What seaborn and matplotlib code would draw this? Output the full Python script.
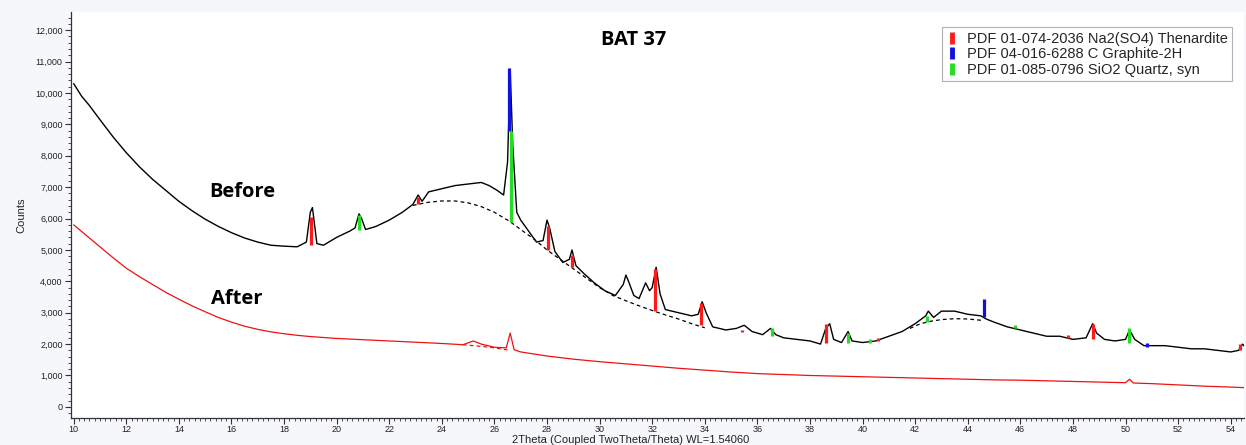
import matplotlib
matplotlib.use("Agg")
import matplotlib.pyplot as plt
from matplotlib.lines import Line2D
from matplotlib.ticker import MultipleLocator, StrMethodFormatter
import pandas as pd
import seaborn as sns

# --- diffraction scan before treatment (2theta in degrees, counts) ---
before_2theta = [10.0, 10.3, 10.6, 11.0, 11.5, 12.0, 12.5, 13.0, 13.5, 14.0, 14.5, 15.0,
                 15.5, 16.0, 16.5, 17.0, 17.5, 18.0, 18.5, 18.85, 19.0, 19.08, 19.25, 19.5,
                 20.0, 20.5, 20.7, 20.85, 20.95, 21.1, 21.5, 22.0, 22.5, 22.9, 23.1, 23.25,
                 23.5, 24.0, 24.5, 25.0, 25.5, 25.8, 26.1, 26.35, 26.5, 26.6, 26.7, 26.85,
                 27.0, 27.3, 27.6, 27.85, 28.0, 28.1, 28.3, 28.6, 28.85, 28.95, 29.1, 29.4,
                 29.8, 30.2, 30.6, 30.9, 31.0, 31.1, 31.3, 31.5, 31.75, 31.9, 32.0, 32.15,
                 32.3, 32.5, 33.0, 33.5, 33.75, 33.9, 34.05, 34.3, 34.8, 35.2, 35.5, 35.8,
                 36.2, 36.5, 36.7, 37.0, 37.5, 38.0, 38.4, 38.6, 38.75, 38.9, 39.2, 39.45,
                 39.6, 40.0, 40.5, 41.0, 41.5, 42.0, 42.4, 42.5, 42.7, 43.0, 43.5, 44.0,
                 44.5, 44.7, 45.0, 45.5, 46.0, 46.5, 47.0, 47.5, 48.0, 48.5, 48.75, 48.9,
                 49.2, 49.6, 50.0, 50.15, 50.35, 50.7, 51.0, 51.5, 52.0, 52.5, 53.0, 53.5,
                 54.0, 54.3, 54.45, 54.6]
before_counts = [10300, 9900, 9600, 9150, 8600, 8100, 7650, 7250, 6900, 6550, 6250, 5980,
                 5750, 5550, 5380, 5250, 5150, 5120, 5100, 5250, 6200, 6350, 5200, 5150,
                 5400, 5600, 5700, 6150, 6000, 5650, 5750, 5950, 6200, 6450, 6750, 6550,
                 6850, 6950, 7050, 7100, 7150, 7050, 6900, 6750, 7800, 10750, 8300, 6200,
                 5950, 5600, 5250, 5300, 5950, 5700, 4950, 4600, 4700, 5000, 4500, 4250,
                 3950, 3700, 3550, 3900, 4200, 4000, 3550, 3450, 3950, 3700, 3800, 4450,
                 3600, 3100, 3000, 2900, 2950, 3350, 3000, 2550, 2450, 2500, 2600, 2400,
                 2300, 2500, 2300, 2200, 2150, 2100, 2000, 2500, 2650, 2150, 2050, 2400,
                 2100, 2050, 2100, 2250, 2400, 2650, 2900, 3050, 2850, 3050, 3050, 2950,
                 2900, 2800, 2700, 2550, 2450, 2350, 2250, 2250, 2150, 2200, 2650, 2350,
                 2150, 2100, 2150, 2450, 2150, 1950, 1950, 1950, 1900, 1850, 1850, 1800,
                 1750, 1800, 2000, 1850]

# --- diffraction scan after treatment ---
after_2theta = [10.0, 10.5, 11.0, 11.5, 12.0, 12.5, 13.0, 13.5, 14.0, 14.5, 15.0, 15.5,
                16.0, 16.5, 17.0, 17.5, 18.0, 18.5, 19.0, 20.0, 21.0, 22.0, 23.0, 24.0,
                24.8, 25.2, 25.5, 26.0, 26.45, 26.6, 26.75, 27.0, 28.0, 29.0, 30.0, 31.0,
                32.0, 33.0, 34.0, 35.0, 36.0, 37.0, 38.0, 39.0, 40.0, 41.0, 42.0, 43.0,
                44.0, 45.0, 46.0, 47.0, 48.0, 49.0, 50.0, 50.15, 50.3, 51.0, 52.0, 53.0,
                54.0, 54.6]
after_counts = [5800, 5450, 5100, 4750, 4420, 4150, 3900, 3650, 3430, 3220, 3030, 2850,
                2700, 2570, 2470, 2390, 2330, 2280, 2240, 2180, 2140, 2100, 2060, 2020,
                1980, 2100, 2000, 1900, 1880, 2350, 1820, 1750, 1620, 1520, 1440, 1370,
                1300, 1230, 1170, 1110, 1060, 1030, 1000, 980, 960, 940, 920, 900,
                880, 860, 850, 830, 810, 790, 770, 880, 760, 740, 700, 660,
                630, 610]

# --- fitted amorphous backgrounds (dashed) ---
before_bg1_2theta = [22.9, 23.5, 24.0, 24.5, 25.0, 25.5, 26.0, 26.6, 27.0, 27.5, 28.0, 28.5,
                     29.0, 29.5, 30.0, 30.5, 31.0, 31.5, 32.0, 32.5, 33.0, 33.5, 34.0]
before_bg1_counts = [6420, 6520, 6560, 6560, 6500, 6380, 6200, 5900, 5650, 5350, 5000, 4700,
                     4400, 4100, 3800, 3550, 3380, 3220, 3070, 2930, 2800, 2650, 2520]
before_bg2_2theta = [41.8, 42.2, 42.6, 43.0, 43.5, 44.0, 44.5]
before_bg2_counts = [2500, 2650, 2730, 2780, 2810, 2800, 2760]
after_bg_2theta = [24.8, 25.2, 25.6, 26.0, 26.6]
after_bg_counts = [1980, 1950, 1920, 1880, 1800]

# --- reference pattern sticks (position, base, top) ---
thenardite_2theta = [19.03, 23.1, 28.03, 28.95, 32.12, 33.87, 35.4, 38.6, 40.6, 47.8, 48.77, 54.35]
thenardite_base = [5150, 6450, 5000, 4450, 3050, 2600, 2400, 2050, 2100, 2200, 2150, 1800]
thenardite_top = [6050, 6700, 5750, 4850, 4400, 3300, 2450, 2650, 2200, 2300, 2650, 2000]

quartz_2theta = [20.86, 26.64, 36.54, 39.46, 40.3, 42.45, 45.8, 50.14]
quartz_base = [5650, 5900, 2250, 2050, 2050, 2700, 2500, 2050]
quartz_top = [6100, 8800, 2500, 2350, 2150, 2900, 2600, 2500]

graphite_2theta = [26.56, 44.6, 50.8]
graphite_base = [8800, 2850, 1900]
graphite_top = [10800, 3450, 2050]

legend_labels = ["PDF 01-074-2036 Na2(SO4) Thenardite",
                 "PDF 04-016-6288 C Graphite-2H",
                 "PDF 01-085-0796 SiO2 Quartz, syn"]
phase_colors = ["#ff1a1a", "#1010e0", "#22dd22"]

sns.set_style("white")
plt.rcParams["font.family"] = ["Liberation Sans", "DejaVu Sans"]

fig = plt.figure(figsize=(12.46, 4.45), dpi=100, facecolor="#f5f7fa")
ax = fig.add_axes([0.057, 0.061, 0.9413, 0.912])
ax.set_facecolor("white")

before_df = pd.DataFrame({"two_theta": before_2theta, "counts": before_counts})
after_df = pd.DataFrame({"two_theta": after_2theta, "counts": after_counts})

sns.lineplot(data=before_df, x="two_theta", y="counts", ax=ax, color="black",
             linewidth=1.0, sort=False, zorder=3)
sns.lineplot(data=after_df, x="two_theta", y="counts", ax=ax, color="#ee1111",
             linewidth=0.9, sort=False, zorder=3)

for xs, ys, col in [(before_bg1_2theta, before_bg1_counts, "black"),
                    (before_bg2_2theta, before_bg2_counts, "black"),
                    (after_bg_2theta, after_bg_counts, "#ee1111")]:
    bg = pd.DataFrame({"two_theta": xs, "counts": ys})
    sns.lineplot(data=bg, x="two_theta", y="counts", ax=ax, color=col,
                 linewidth=0.9, linestyle=(0, (3, 2.5)), sort=False, zorder=2)

for xs, lo, hi, col in [(thenardite_2theta, thenardite_base, thenardite_top, phase_colors[0]),
                        (quartz_2theta, quartz_base, quartz_top, phase_colors[2]),
                        (graphite_2theta, graphite_base, graphite_top, phase_colors[1])]:
    ax.vlines(xs, lo, hi, colors=col, linewidth=2.3, zorder=4)

ax.set_xlim(9.9, 54.5)
ax.set_ylim(-350, 12580)
ax.xaxis.set_major_locator(MultipleLocator(2))
ax.xaxis.set_minor_locator(MultipleLocator(0.2))
ax.yaxis.set_major_locator(MultipleLocator(1000))
ax.yaxis.set_minor_locator(MultipleLocator(200))
ax.yaxis.set_major_formatter(StrMethodFormatter("{x:,.0f}"))
ax.tick_params(axis="both", which="major", direction="out", length=4, width=0.8,
               labelsize=6.5, colors="#333333", labelcolor="#222222", pad=2,
               bottom=True, left=True)
ax.tick_params(axis="x", which="major", pad=1)
ax.tick_params(axis="both", which="minor", direction="out", length=2, width=0.6,
               colors="#333333", bottom=True, left=True)
for side in ["top", "right"]:
    ax.spines[side].set_visible(False)
for side in ["left", "bottom"]:
    ax.spines[side].set_color("#333333")
    ax.spines[side].set_linewidth(0.9)

ax.set_xlabel("2Theta (Coupled TwoTheta/Theta) WL=1.54060", fontsize=8, labelpad=1,
              color="#222222", x=0.477)
ax.set_ylabel("Counts", fontsize=8, labelpad=6, color="#222222")

big = dict(family=["Open Sans", "DejaVu Sans"], fontweight="bold", fontsize=14.5, color="black")
ax.text(31.3, 11700, "BAT 37", ha="center", va="center", **big)
ax.text(16.4, 6850, "Before", ha="center", va="center", **big)
ax.text(16.2, 3450, "After", ha="center", va="center", **big)

handles = [Line2D([], [], marker="|", linestyle="None", markersize=9,
                  markeredgewidth=3.5, color=c) for c in phase_colors]
leg = ax.legend(handles, legend_labels, loc="upper right", bbox_to_anchor=(0.99, 0.962),
                fontsize=10.5, frameon=True, fancybox=False, handlelength=0.8,
                handletextpad=0.6, borderpad=0.3, labelspacing=0.1,
                borderaxespad=0.0)
leg.get_frame().set_edgecolor("#9aa0a6")
leg.get_frame().set_linewidth(0.8)

fig.savefig("out.png", dpi=100, facecolor=fig.get_facecolor())
